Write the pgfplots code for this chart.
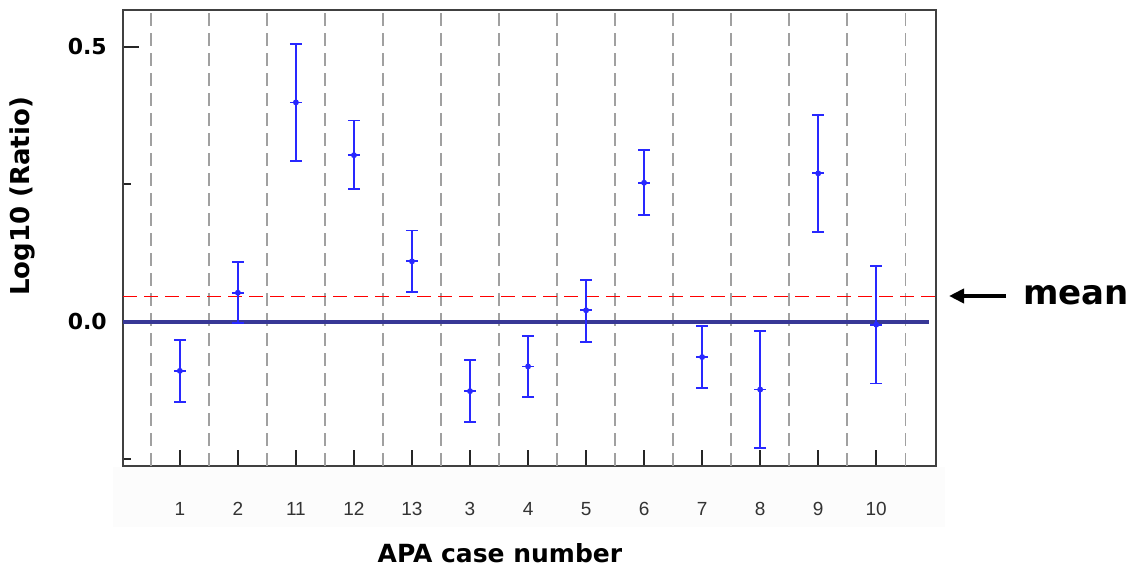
\documentclass[border=0pt]{standalone}
\usepackage{fontspec}
\setmainfont{DejaVu Sans}
\newfontfamily\tickfont{Liberation Sans}
\usepackage{pgfplots}
\usepackage{pgfplotstable}
\pgfplotsset{compat=1.18}
\usetikzlibrary{arrows.meta}

\definecolor{barblue}{RGB}{40,40,255}
\definecolor{zeroblue}{RGB}{56,56,150}
\definecolor{axisgray}{RGB}{64,64,64}
\definecolor{gridgray}{RGB}{160,160,160}

% case index, log10 ratio, error up, error down
\pgfplotstableread{
x  y      ep     em
0  -0.089 0.056  0.056
1  0.053  0.056  0.055
2  0.399  0.106  0.107
3  0.303  0.063  0.061
4  0.110  0.056  0.056
5  -0.126 0.056  0.056
6  -0.081 0.056  0.056
7  0.021  0.055  0.057
8  0.253  0.059  0.059
9  -0.064 0.056  0.056
10 -0.123 0.107  0.107
11 0.270  0.106  0.107
12 -0.005 0.107  0.107
}\casedata

% centre ticks: short horizontal segments at each value
\pgfplotstableread{
x      y
-0.103 -0.089
0.103  -0.089
nan    nan
0.897  0.053
1.103  0.053
nan    nan
1.897  0.399
2.103  0.399
nan    nan
2.897  0.303
3.103  0.303
nan    nan
3.897  0.110
4.103  0.110
nan    nan
4.897  -0.126
5.103  -0.126
nan    nan
5.897  -0.081
6.103  -0.081
nan    nan
6.897  0.021
7.103  0.021
nan    nan
7.897  0.253
8.103  0.253
nan    nan
8.897  -0.064
9.103  -0.064
nan    nan
9.897  -0.123
10.103 -0.123
nan    nan
10.897 0.270
11.103 0.270
nan    nan
11.897 -0.005
12.103 -0.005
}\centreticks

\begin{document}
\begin{tikzpicture}
\path[use as bounding box] (0,0) rectangle (1133pt,567pt);
\fill[black!1.2] (113pt,40pt) rectangle (945pt,100pt);
\begin{axis}[
  at={(123pt,101pt)}, anchor=south west,
  scale only axis, width=813pt, height=456pt,
  xmin=-0.98, xmax=13.03, ymin=-0.262, ymax=0.567,
  axis line style={axisgray, line width=1.8pt},
  tick align=inside,
  tick style={black!85, line width=1.8pt},
  major tick length=16pt, minor tick length=8pt,
  xtick={0,...,12},
  xticklabels={1,2,11,12,13,3,4,5,6,7,8,9,10},
  xtick pos=bottom, ytick pos=left,
  ytick={0,0.5}, minor ytick={-0.25,0.25},
  extra x ticks={-0.5,0.5,...,12.5},
  extra x tick labels={},
  extra x tick style={grid=major, tick style={draw=none},
    major grid style={gridgray, line width=1.5pt, dash pattern=on 13pt off 7pt}},
  xticklabel style={font=\tickfont\fontsize{19}{19}\selectfont, text=black!80,
    anchor=center, inner sep=0pt, yshift=-43pt},
  yticklabel style={font=\fontsize{22}{22}\selectfont\bfseries,
    anchor=east, inner sep=0pt, xshift=-16pt,
    /pgf/number format/.cd, fixed, fixed zerofill, precision=1},
  /pgf/number format/assume math mode=true,
  xlabel={APA case number},
  ylabel={Log10 (Ratio)},
  xlabel style={font=\fontsize{25}{25}\selectfont\bfseries,
    at={(rel axis cs:0.4637,-0.191)}, anchor=center},
  ylabel style={font=\fontsize{26}{26}\selectfont\bfseries,
    at={(rel axis cs:-0.1236,0.591)}, anchor=center, rotate=0},
  clip=false,
]
\addplot[red, line width=1.6pt, dash pattern=on 14pt off 7pt, forget plot]
  coordinates {(-0.98,0.046) (13.03,0.046)};
\addplot[zeroblue, line width=4pt, forget plot]
  coordinates {(-0.98,0) (12.91,0)};
% error bars with caps
\addplot[barblue, line width=1.8pt, only marks, mark=none,
  error bars/.cd, y dir=both, y explicit,
  error bar style={line width=1.8pt, barblue},
  error mark options={rotate=90, mark size=6pt, line width=1.8pt, barblue}]
  table[x=x, y=y, y error plus=ep, y error minus=em]{\casedata};
% centre ticks
\addplot[barblue, line width=1.8pt, mark=none, unbounded coords=jump]
  table[x=x, y=y]{\centreticks};
\end{axis}
\draw[line width=4.5pt, -{Triangle[length=15pt,width=14pt]}] (1006pt,271pt) -- (949pt,271pt);
\node[anchor=base west, inner sep=0pt, font=\fontsize{34}{34}\selectfont\bfseries]
  at (1023pt,262pt) {mean};
\end{tikzpicture}
\end{document}
